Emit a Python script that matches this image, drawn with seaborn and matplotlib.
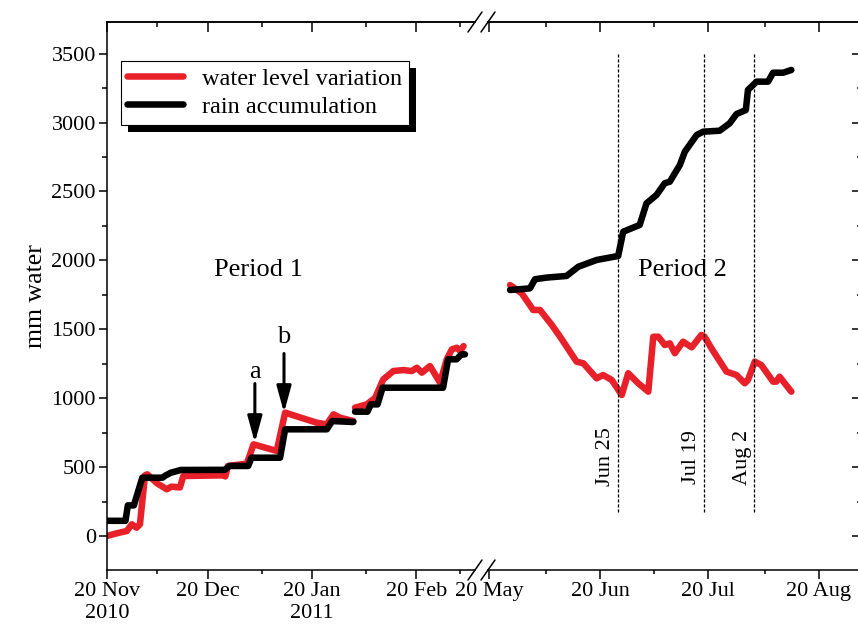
import numpy as np
import pandas as pd
import seaborn as sns
import matplotlib
matplotlib.use('Agg')
import matplotlib.pyplot as plt
import matplotlib.dates as mdates
from matplotlib.ticker import MultipleLocator, FuncFormatter
from matplotlib.patches import Rectangle
from matplotlib.lines import Line2D

# ---- data ----
start1 = pd.Timestamp('2010-11-20')   # period 1, days after this date
start2 = pd.Timestamp('2011-05-20')   # period 2, days after this date
p1_gap = 73.5                         # logger gap in period 1

p1_water_days = [0, 3, 5.9, 7.4, 8.8, 9.8, 11.3, 12, 15, 17.8, 19.2, 21.7, 22.7, 34.6, 35.2,
                 36, 41.6, 43.6, 50.5, 53, 62.4, 65.4, 67.4, 69.4, 73.3,
                 73.8, 77.3, 79.8, 82.2, 85.2, 88.2, 90.7, 92.2, 93.7, 96.1, 97.6, 99.1,
                 101.1, 102.6, 104.1, 105.1, 106.1]
p1_water_mm = [0, 20, 36, 85, 60, 85, 440, 447, 380, 339, 358, 352, 435, 440, 432,
               508, 525, 665, 617, 895, 822, 810, 883, 858, 834,
               931, 955, 1003, 1136, 1197, 1204, 1197, 1221, 1185, 1233, 1173, 1112,
               1282, 1354, 1366, 1342, 1378]

p1_rain_days = [0, 5.5, 6.2, 8, 10.5, 16.5, 17.5, 19, 22, 35, 36.5, 42, 43, 51.5, 53,
                65.4, 67, 73.3,
                73.8, 77.5, 78.5, 80.5, 82, 100, 101.5, 104, 105.5, 106.5]
p1_rain_mm = [110, 110, 222, 222, 423, 423, 440, 459, 479, 480, 508, 508, 568, 568, 774,
              774, 834, 827,
              902, 902, 955, 955, 1076, 1076, 1282, 1282, 1318, 1318]

p2_water_days = [5.85, 9.1, 12.3, 14.2, 17.5, 19.8, 24.4, 26.3, 30, 31.8, 34.2, 37, 38.8,
                 41.6, 44.4, 45.8, 47.2, 49, 50.4, 51.8, 54.1, 56.5, 59.2, 60.1, 62,
                 66.2, 69, 71.3, 72.2, 74.1, 75.9, 79.2, 80.1, 81, 84.3]
p2_water_mm = [1821, 1761, 1640, 1640, 1531, 1446, 1265, 1253, 1144, 1168, 1132, 1023, 1181,
               1108, 1047, 1446, 1446, 1386, 1398, 1326, 1410, 1369, 1459, 1446, 1362,
               1193, 1168, 1108, 1132, 1265, 1241, 1120, 1120, 1156, 1047]

p2_rain_days = [5.85, 11.4, 12.8, 16, 21.6, 24.9, 30, 36, 37.4, 42, 43.9, 46.7, 49, 50.4,
                53.2, 54.6, 57.9, 59.7, 64.3, 67.1, 69, 71.6, 72.2, 74.6, 77.8, 79.2,
                82, 84.3]
p2_rain_mm = [1785, 1797, 1863, 1875, 1887, 1954, 2003, 2032, 2208, 2257, 2414, 2475, 2560,
              2571, 2692, 2789, 2910, 2934, 2941, 2995, 3062, 3091, 3237, 3297, 3297, 3362,
              3362, 3382]

event_dates = ['2011-06-25', '2011-07-19', '2011-08-02']
event_labels = ['Jun 25', 'Jul 19', 'Aug 2']

WATER = 'water level variation'
RAIN = 'rain accumulation'


def make_frame(start, days, values, series, gap=None):
    days = np.asarray(days, dtype=float)
    seg = np.where(days < gap, 'a', 'b') if gap is not None else 'a'
    return pd.DataFrame({'date': start + pd.to_timedelta(days, unit='D'),
                         'mm': values, 'series': series, 'seg': seg})


df1 = pd.concat([make_frame(start1, p1_water_days, p1_water_mm, WATER, p1_gap),
                 make_frame(start1, p1_rain_days, p1_rain_mm, RAIN, p1_gap)])
df2 = pd.concat([make_frame(start2, p2_water_days, p2_water_mm, WATER),
                 make_frame(start2, p2_rain_days, p2_rain_mm, RAIN)])

# ---- style ----
sns.set_theme(style='ticks')
plt.rcParams.update({
    'font.family': ['Liberation Serif', 'DejaVu Serif'],
    'axes.edgecolor': 'black', 'axes.linewidth': 1.1,
    'xtick.color': 'black', 'ytick.color': 'black',
    'text.color': 'black', 'axes.labelcolor': 'black',
    'xtick.labelsize': 16, 'ytick.labelsize': 16,
})

W, H = 858, 628
fig = plt.figure(figsize=(W / 100, H / 100), dpi=100)
ax1 = fig.add_axes([107 / W, 1 - 570 / H, (475 - 107) / W, 548 / H])
ax2 = fig.add_axes([488 / W, 1 - 570 / H, (862 - 488) / W, 548 / H])

palette = {WATER: '#e8202a', RAIN: 'black'}
order = [WATER, RAIN]
for ax, df, leg in [(ax1, df1, True), (ax2, df2, False)]:
    sns.lineplot(data=df, x='date', y='mm', hue='series', hue_order=order, palette=palette,
                 units='seg', estimator=None, sort=False, linewidth=4.7,
                 solid_capstyle='round', legend=leg, ax=ax)

ylim = (-247, 3730)
ax1.set_xlim(start1, start1 + pd.Timedelta(days=109.5))
ax2.set_xlim(start2 - pd.Timedelta(days=0.3), start2 + pd.Timedelta(days=104))


def date_label(x, pos):
    d = mdates.num2date(x)
    s = f'{d.day} {d:%b}'
    if d.month in (11, 1):
        s += f'\n{d.year}'
    return s


for ax in (ax1, ax2):
    ax.set_ylim(*ylim)
    ax.set_xlabel('')
    ax.xaxis.set_major_locator(mdates.MonthLocator(bymonthday=20))
    ax.xaxis.set_minor_locator(mdates.MonthLocator(bymonthday=5))
    ax.xaxis.set_major_formatter(FuncFormatter(date_label))
    ax.tick_params(axis='x', which='major', direction='out', length=6.5, width=1.1, pad=2)
    ax.tick_params(axis='x', which='minor', direction='out', length=3, width=1.1)
    top = ax.secondary_xaxis('top')
    top.xaxis.set_major_locator(mdates.MonthLocator(bymonthday=20))
    top.xaxis.set_minor_locator(mdates.MonthLocator(bymonthday=5))
    top.tick_params(which='major', direction='in', length=7, width=1.1, labeltop=False)
    top.tick_params(which='minor', direction='in', length=3.5, width=1.1)

ax1.spines['right'].set_visible(False)
ax2.spines['left'].set_visible(False)
ax1.yaxis.set_major_locator(MultipleLocator(500))
ax1.yaxis.set_minor_locator(MultipleLocator(250))
ax1.tick_params(axis='y', which='major', direction='out', length=6, width=1.1, pad=2)
ax1.tick_params(axis='y', which='minor', direction='out', length=3.5, width=1.1)
ax1.set_ylabel('mm water', fontsize=18.5, labelpad=3)
ax2.tick_params(axis='y', which='both', left=False, labelleft=False)
ax2.set_ylabel('')
right = ax2.secondary_yaxis('right')
right.yaxis.set_major_locator(MultipleLocator(500))
right.yaxis.set_minor_locator(MultipleLocator(250))
right.tick_params(which='major', direction='in', length=7, width=1.1, labelright=False)
right.tick_params(which='minor', direction='in', length=3.5, width=1.1)

# ---- annotations ----
ax1.text(pd.Timestamp('2011-01-04'), 1890, 'Period 1', fontsize=19, ha='center', va='baseline')
ax2.text(pd.Timestamp('2011-07-13'), 1890, 'Period 2', fontsize=19, ha='center', va='baseline')

arrow = dict(arrowstyle='-|>,head_length=0.8,head_width=0.22', lw=2.2, color='black',
             mutation_scale=20, shrinkA=0, shrinkB=0)
for day, tip, tail, lab, laby in [('2011-01-03', 677, 1106, 'a', 1147),
                                  ('2011-01-11 16:00', 895, 1324, 'b', 1398)]:
    d = pd.Timestamp(day)
    ax1.annotate('', xy=(d, tip), xytext=(d, tail), arrowprops=arrow)
    ax1.text(d, laby, lab, fontsize=19, ha='center', va='baseline')

ev = pd.to_datetime(event_dates)
ax2.vlines(ev, 175, 3500, colors='black', linestyles=(0, (2.5, 1.5)), linewidth=0.9)
for d, lab in zip(ev, event_labels):
    ax2.annotate(lab, xy=(d, 573), xytext=(-2, 0), textcoords='offset points',
                 rotation=90, ha='right', va='center', fontsize=16)

# ---- legend with offset black shadow ----
handles, labels = ax1.get_legend_handles_labels()
leg = ax1.legend(handles, labels, loc='upper left', bbox_to_anchor=(0.0372, 0.9288),
                 borderaxespad=0, fontsize=17.5, handlelength=2.3, handletextpad=0.75,
                 borderpad=0.28, labelspacing=0.25, fancybox=False, framealpha=1,
                 edgecolor='black')
leg.get_frame().set_linewidth(0.8)
for h in leg.legend_handles:
    h.set_linewidth(4.7)
    h.set_solid_capstyle('round')

# ---- axis break marks ----
for xc in (475, 488):
    for yc in (22, 570):
        fig.add_artist(Line2D([(xc - 7) / W, (xc + 7) / W], [1 - (yc + 10) / H, 1 - (yc - 10) / H],
                              transform=fig.transFigure, color='black', lw=1.1))

fig.canvas.draw()
bb = leg.get_window_extent()
inv = ax1.transAxes.inverted()
(x0, y0), (x1, y1) = inv.transform([(bb.x0 + 7, bb.y0 - 7), (bb.x1 + 7, bb.y1 - 7)])
ax1.add_patch(Rectangle((x0, y0), x1 - x0, y1 - y0, transform=ax1.transAxes,
                        facecolor='black', edgecolor='none', zorder=4, clip_on=False))

fig.savefig('out.png', dpi=100)
